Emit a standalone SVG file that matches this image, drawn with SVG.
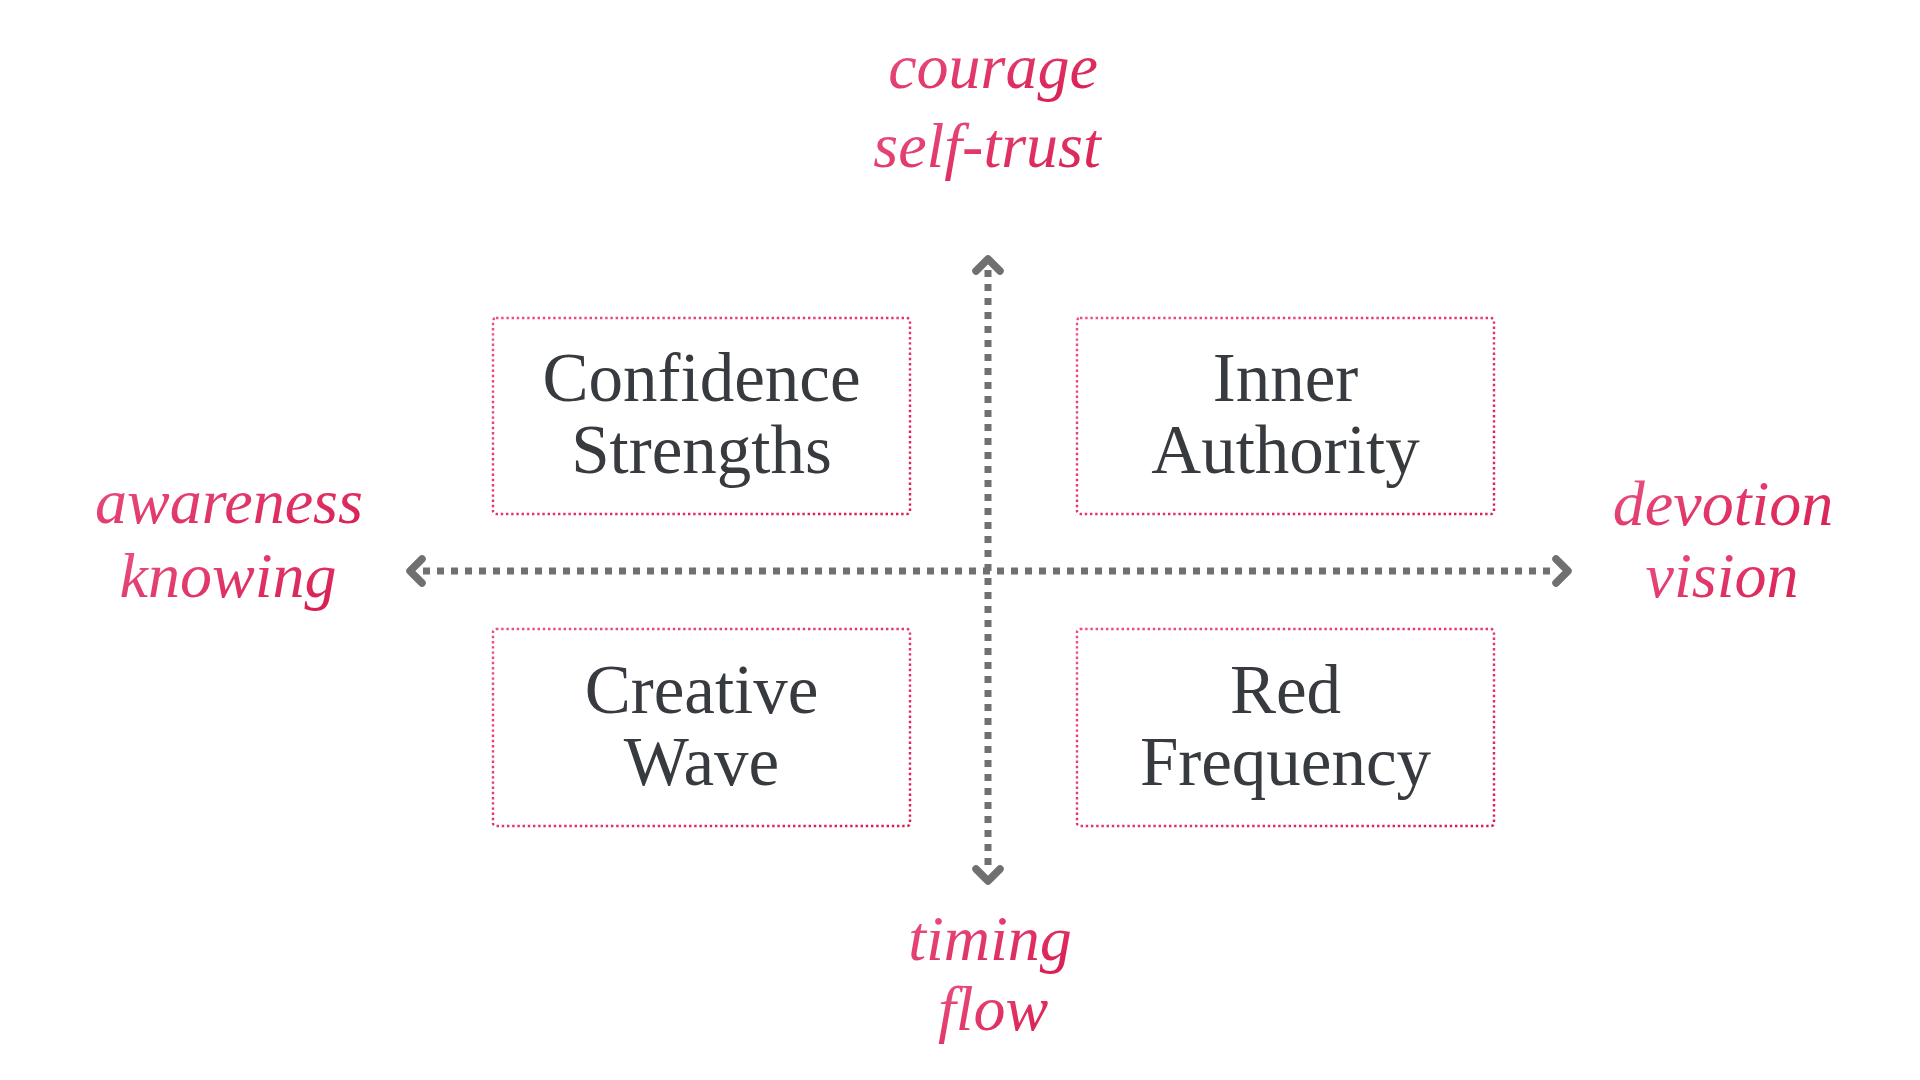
<svg xmlns="http://www.w3.org/2000/svg" width="1920" height="1080" viewBox="0 0 1920 1080">
<defs>
<linearGradient id="pink" x1="0" y1="0" x2="1" y2="1">
<stop offset="0" stop-color="#ea5585"/>
<stop offset="1" stop-color="#d81b4e"/>
</linearGradient>
<linearGradient id="pinkLine" x1="0" y1="0" x2="1" y2="1">
<stop offset="0" stop-color="#f04c84"/>
<stop offset="1" stop-color="#dc1a4e"/>
</linearGradient>
</defs>
<style>
.box{fill:none;stroke:url(#pinkLine);stroke-width:2.4;stroke-dasharray:2.4 2.8}
.label{font-family:"Liberation Serif","DejaVu Serif",serif;font-size:69px;fill:#373a3f;text-anchor:middle}
.script{font-family:"Liberation Serif","DejaVu Serif",serif;font-style:italic;font-size:64px;fill:url(#pink);text-anchor:middle}
.axis{fill:none;stroke:#707070;stroke-width:7;stroke-dasharray:7 7}
.head{fill:none;stroke:#707070;stroke-width:7.5;stroke-linecap:round;stroke-linejoin:round}
</style>
<rect width="1920" height="1080" fill="#ffffff"/>
<g id="connectors">
<line class="axis" x1="988" y1="270" x2="988" y2="870"/>
<line class="axis" x1="423" y1="571" x2="1556" y2="571"/>
<polyline class="head" points="976,271 988,259 1000,271"/>
<polyline class="head" points="976,869 988,881 1000,869"/>
<polyline class="head" points="422,559 410,571 422,583"/>
<polyline class="head" points="1556,559 1568,571 1556,583"/>
</g>
<g id="node-confidence">
<rect class="box" x="493" y="318" width="417" height="196" rx="3"/>
<text class="label" x="701.5" y="401">Confidence</text>
<text class="label" x="701.5" y="473">Strengths</text>
</g>
<g id="node-inner">
<rect class="box" x="1077" y="318" width="417" height="196" rx="3"/>
<text class="label" x="1285.5" y="401">Inner</text>
<text class="label" x="1285.5" y="473">Authority</text>
</g>
<g id="node-creative">
<rect class="box" x="493" y="629" width="417" height="197" rx="3"/>
<text class="label" x="701.5" y="713">Creative</text>
<text class="label" x="701.5" y="785">Wave</text>
</g>
<g id="node-red">
<rect class="box" x="1077" y="629" width="417" height="197" rx="3"/>
<text class="label" x="1285.5" y="713">Red</text>
<text class="label" x="1285.5" y="785">Frequency</text>
</g>
<g id="label-top">
<text class="script" x="993" y="88">courage</text>
<text class="script" x="987" y="167" font-size="70">self-trust</text>
</g>
<g id="label-left">
<text class="script" x="229" y="523">awareness</text>
<text class="script" x="228" y="597">knowing</text>
</g>
<g id="label-right">
<text class="script" x="1723" y="525">devotion</text>
<text class="script" x="1722" y="597">vision</text>
</g>
<g id="label-bottom">
<text class="script" x="990" y="960">timing</text>
<text class="script" x="993" y="1030">flow</text>
</g>
</svg>
